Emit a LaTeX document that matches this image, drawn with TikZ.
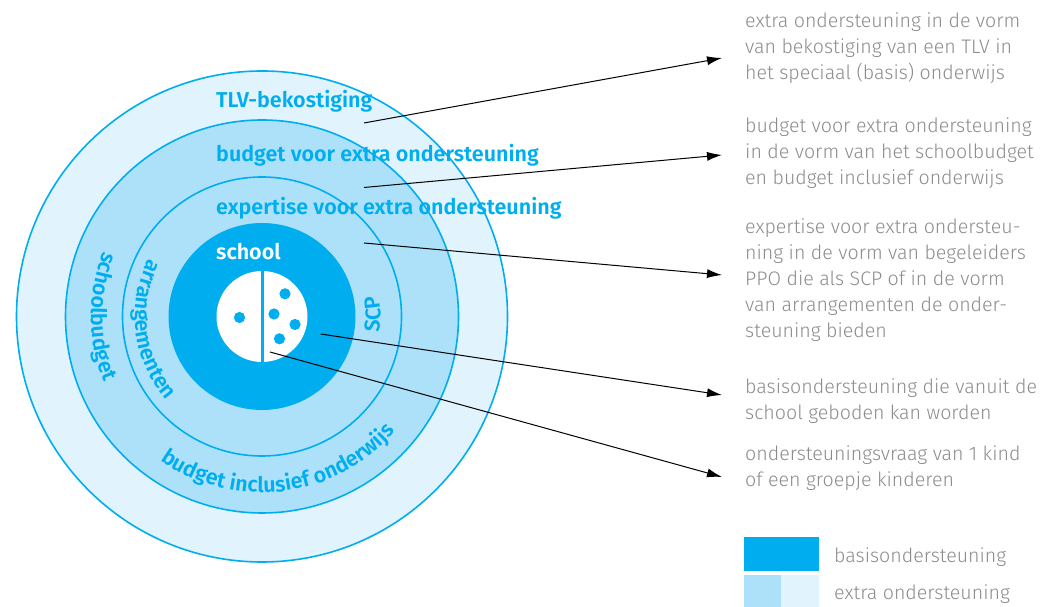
\documentclass[tikz,border=0pt]{standalone}
\usepackage{fontspec}
\setmainfont{Fira Sans}
\newfontfamily\labfont{Fira Sans SemiBold}
\newfontfamily\txtfont{Fira Sans Light}
\usetikzlibrary{arrows.meta,decorations.text}
\definecolor{cyanA}{HTML}{00AEEF}
\definecolor{lightA}{HTML}{ADE1FA}
\definecolor{paleA}{HTML}{E1F3FC}
\definecolor{grayT}{HTML}{8C8C8C}
\newcommand{\labsize}{\labfont\fontsize{21.5}{21.5}\selectfont}
\begin{document}
\begin{tikzpicture}[x=1pt,y=1pt,
  ring/.style={circle, draw=cyanA, line width=1.6pt, inner sep=0pt},
  lab/.style={font=\labsize, text=cyanA, inner sep=0pt, anchor=base west},
  desc/.style={font=\txtfont\fontsize{19.6}{26}\selectfont, text=grayT, inner sep=0pt, anchor=north west, align=left},
  pointer/.style={draw=black, line width=1pt, -{Latex[length=15pt,width=9pt]}},
  legbox/.style={rectangle, inner sep=0pt, anchor=south west},
  legtext/.style={font=\txtfont\fontsize{19.6}{26}\selectfont, text=grayT, inner sep=0pt, anchor=base west},
  dot/.style={cyanA}]
\useasboundingbox (0,0) rectangle (1042,607);
\coordinate (C) at (262,290.5);
% rings
\node (outer) [ring, fill=paleA, minimum size=491pt] at (C) {};
\node (second) [ring, fill=lightA, minimum size=393pt] at (C) {};
\node (third) [ring, fill=lightA, minimum size=279pt] at (C) {};
\node (core) [circle, fill=cyanA, inner sep=0pt, minimum size=187pt] at (C) {};
\node (kid) [circle, fill=white, inner sep=0pt, minimum size=91pt] at (C) {};
\draw[cyanA, line width=3pt] (kid.north) -- (kid.south);
\fill[dot] (C) ++(-22.5,-1) circle (5.6);
\fill[dot] (C) ++(23,22.7) circle (5.6);
\fill[dot] (C) ++(12,2.5) circle (5.6);
\fill[dot] (C) ++(33,-8) circle (5.6);
\fill[dot] (C) ++(17.5,-22.3) circle (5.6);
% straight labels
\node (tlv) [lab] at (216,499) {TLV-bekostiging};
\node (bveo) [lab] at (216,445.6) {budget voor extra ondersteuning};
\node (eveo) [lab] at (216,392) {expertise voor extra ondersteuning};
\node (school) [lab, text=white] at (216,347) {school};
% curved labels
\path[decorate, decoration={text along path, text={|\labsize|schoolbudget}, text color=cyanA, text align=center}]
  (C) ++(140:171) arc[start angle=140, end angle=220, radius=171];
\path[decorate, decoration={text along path, text={|\labsize|arrangementen}, text color=cyanA, text align=center}]
  (C) ++(135:127) arc[start angle=135, end angle=239, radius=127];
\path[decorate, decoration={text along path, text={|\labsize|budget inclusief onderwijs}, text color=cyanA, text align=center}]
  (C) ++(222:176) arc[start angle=222, end angle=332, radius=176];
\path[decorate, decoration={text along path, text={|\labsize|SCP}, text color=cyanA, text align=center}]
  (C) ++(-30:118.5) arc[start angle=-30, end angle=32, radius=118.5];
% descriptions
\node (d1) [desc] at (745,594.5) {extra ondersteuning in de vorm\\van bekostiging van een TLV in\\het speciaal (basis) onderwijs};
\node (d2) [desc] at (745,489.5) {budget voor extra ondersteuning\\in de vorm van het schoolbudget\\en budget inclusief onderwijs};
\node (d3) [desc] at (745,388) {expertise voor extra ondersteu-\\ning in de vorm van begeleiders\\PPO die als SCP of in de vorm\\van arrangementen de onder-\\steuning bieden};
\node (d4) [desc] at (745,228.2) {basisondersteuning die vanuit de\\school geboden kan worden};
\node (d5) [desc] at (745,161.5) {ondersteuningsvraag van 1 kind\\of een groepje kinderen};
% pointers
\coordinate (s1) at (364,484);
\coordinate (s2) at (364,419.5);
\coordinate (s3) at (364,364);
\coordinate (s4) at (320.7,273);
\coordinate (s5) at (270,255);
\coordinate (t1) at (722,549);
\coordinate (t2) at (722,452);
\coordinate (t3) at (722,332);
\coordinate (t4) at (722,212);
\coordinate (t5) at (722,130);
\draw[pointer] (s1) -- (t1);
\draw[pointer] (s2) -- (t2);
\draw[pointer] (s3) -- (t3);
\draw[pointer] (s4) -- (t4);
\draw[pointer] (s5) -- (t5);
% legend
\node (lb) [legbox, fill=cyanA, minimum width=75pt, minimum height=34pt] at (744,36) {};
\node (le1) [legbox, fill=lightA, minimum width=37pt, minimum height=32pt] at (744,0) {};
\node (le2) [legbox, fill=paleA, minimum width=38pt, minimum height=32pt] at (781,0) {};
\node (lbt) [legtext] at (834,44.7) {basisondersteuning};
\node (let) [legtext] at (834,7) {extra ondersteuning};
\end{tikzpicture}
\end{document}
